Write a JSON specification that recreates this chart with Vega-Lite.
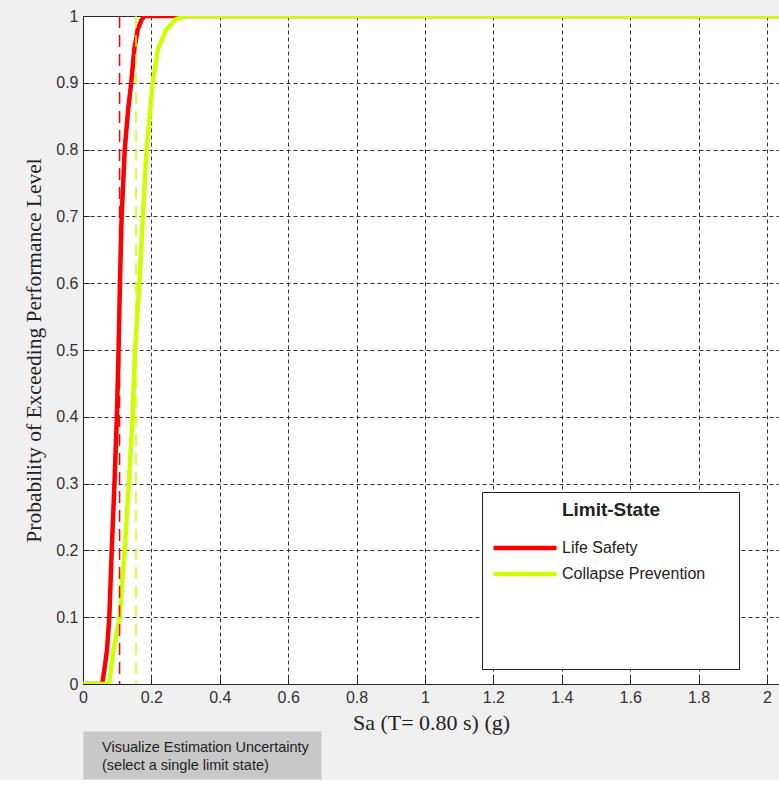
{
  "$schema": "https://vega.github.io/schema/vega-lite/v6.json",
  "background": "#f0f0f0",
  "padding": {"left": 23, "top": 7, "right": 0, "bottom": 0},
  "spacing": 47,
  "bounds": "flush",
  "config": {"view": {"stroke": null}},
  "datasets": {
    "curves": [
      {"state": "Life Safety", "sa": 0, "p": 0},
      {"state": "Life Safety", "sa": 0.056, "p": 0},
      {"state": "Life Safety", "sa": 0.062, "p": 0.02},
      {"state": "Life Safety", "sa": 0.07, "p": 0.05},
      {"state": "Life Safety", "sa": 0.077, "p": 0.1},
      {"state": "Life Safety", "sa": 0.084, "p": 0.2},
      {"state": "Life Safety", "sa": 0.092, "p": 0.3},
      {"state": "Life Safety", "sa": 0.099, "p": 0.4},
      {"state": "Life Safety", "sa": 0.104, "p": 0.5},
      {"state": "Life Safety", "sa": 0.108, "p": 0.6},
      {"state": "Life Safety", "sa": 0.113, "p": 0.7},
      {"state": "Life Safety", "sa": 0.122, "p": 0.8},
      {"state": "Life Safety", "sa": 0.132, "p": 0.86},
      {"state": "Life Safety", "sa": 0.141, "p": 0.9},
      {"state": "Life Safety", "sa": 0.15, "p": 0.95},
      {"state": "Life Safety", "sa": 0.16, "p": 0.98},
      {"state": "Life Safety", "sa": 0.17, "p": 0.993},
      {"state": "Life Safety", "sa": 0.18, "p": 1},
      {"state": "Life Safety", "sa": 2.046, "p": 1},
      {"state": "Collapse Prevention", "sa": 0, "p": 0},
      {"state": "Collapse Prevention", "sa": 0.076, "p": 0},
      {"state": "Collapse Prevention", "sa": 0.082, "p": 0.02},
      {"state": "Collapse Prevention", "sa": 0.089, "p": 0.05},
      {"state": "Collapse Prevention", "sa": 0.107, "p": 0.1},
      {"state": "Collapse Prevention", "sa": 0.122, "p": 0.2},
      {"state": "Collapse Prevention", "sa": 0.134, "p": 0.3},
      {"state": "Collapse Prevention", "sa": 0.145, "p": 0.4},
      {"state": "Collapse Prevention", "sa": 0.152, "p": 0.5},
      {"state": "Collapse Prevention", "sa": 0.165, "p": 0.6},
      {"state": "Collapse Prevention", "sa": 0.175, "p": 0.7},
      {"state": "Collapse Prevention", "sa": 0.186, "p": 0.8},
      {"state": "Collapse Prevention", "sa": 0.204, "p": 0.9},
      {"state": "Collapse Prevention", "sa": 0.219, "p": 0.95},
      {"state": "Collapse Prevention", "sa": 0.244, "p": 0.98},
      {"state": "Collapse Prevention", "sa": 0.271, "p": 0.995},
      {"state": "Collapse Prevention", "sa": 0.3, "p": 1},
      {"state": "Collapse Prevention", "sa": 2.046, "p": 1}
    ],
    "medians": [
      {"state": "Life Safety", "median": 0.107},
      {"state": "Collapse Prevention", "median": 0.155}
    ]
  },
  "vconcat": [
    {
      "width": 700,
      "height": 668,
      "view": {"fill": "white", "stroke": "#222", "strokeWidth": 1},
      "layer": [
        {
          "data": {"name": "curves"},
          "mark": {"type": "line", "strokeWidth": 4.5, "clip": true},
          "encoding": {
            "x": {
              "field": "sa", "type": "quantitative",
              "scale": {"domain": [0, 2.0468], "nice": false, "zero": false},
              "axis": {
                "values": [0, 0.2, 0.4, 0.6, 0.8, 1, 1.2, 1.4, 1.6, 1.8, 2],
                "format": "~g",
                "title": "Sa (T= 0.80 s) (g)",
                "titleFont": "Liberation Serif", "titleFontSize": 22, "titleFontWeight": "normal",
                "titleColor": "#222", "titlePadding": 7, "titleX": 348,
                "labelFont": "Liberation Sans", "labelFontSize": 16, "labelColor": "#333",
                "labelPadding": 11, "labelFlush": false, "labelOverlap": false,
                "tickSize": -6, "tickColor": "#222", "domainColor": "#222",
                "grid": true, "gridDash": [4, 3], "gridColor": "#333", "gridOpacity": 1
              }
            },
            "y": {
              "field": "p", "type": "quantitative",
              "scale": {"domain": [0, 1], "nice": false},
              "axis": {
                "values": [0, 0.1, 0.2, 0.3, 0.4, 0.5, 0.6, 0.7, 0.8, 0.9, 1],
                "format": "~g",
                "title": "Probability of Exceeding Performance Level",
                "titleFont": "Liberation Serif", "titleFontSize": 21.5, "titleFontWeight": "normal",
                "titleColor": "#222", "titlePadding": 10,
                "labelFont": "Liberation Sans", "labelFontSize": 16, "labelColor": "#333",
                "labelPadding": 11, "labelFlush": false, "labelOverlap": false,
                "tickSize": -6, "tickColor": "#222", "domainColor": "#222",
                "grid": true, "gridDash": [4, 3], "gridColor": "#333", "gridOpacity": 1
              }
            },
            "color": {
              "field": "state", "type": "nominal",
              "scale": {
                "domain": ["Life Safety", "Collapse Prevention", "\u2800", "\u2800\u2800", "\u2800\u2800\u2800\u2800\u2800\u2800\u2800\u2800\u2800\u2800\u2800\u2800\u2800\u2800"],
                "range": ["#ff0000", "#ccff00", "transparent", "transparent", "transparent"]
              },
              "legend": {
                "orient": "none", "legendX": 399, "legendY": 476,
                "title": "Limit-State",
                "titleFont": "Liberation Sans", "titleFontSize": 19, "titleFontWeight": "bold",
                "titleColor": "#222", "titleAnchor": "middle", "titlePadding": 20,
                "labelFont": "Liberation Sans", "labelFontSize": 16, "labelColor": "#222",
                "labelLimit": 400, "labelOffset": 3,
                "symbolType": "stroke", "symbolSize": 3969, "symbolStrokeWidth": 4.5,
                "clipHeight": 16, "rowPadding": 10, "padding": 9,
                "strokeColor": "#222", "fillColor": "white"
              }
            }
          }
        },
        {
          "data": {"name": "medians"},
          "mark": {"type": "rule", "strokeDash": [12, 7], "strokeWidth": 1.5},
          "encoding": {
            "x": {"field": "median", "type": "quantitative"},
            "stroke": {
              "field": "state", "type": "nominal",
              "scale": {"domain": ["Life Safety", "Collapse Prevention"], "range": ["#ff0000", "#ccff00"]},
              "legend": null
            }
          }
        }
      ]
    },
    {
      "width": 238,
      "height": 48,
      "view": {"fill": "#c8c8c8", "stroke": "#dadada", "strokeWidth": 1},
      "data": {"values": [{"caption": "Visualize Estimation Uncertainty\n(select a single limit state)"}]},
      "mark": {"type": "text", "align": "left", "dx": -100, "dy": -7, "lineBreak": "\n", "lineHeight": 18, "font": "Liberation Sans", "fontSize": 14.5, "color": "#222"},
      "encoding": {"text": {"field": "caption", "type": "nominal"}}
    }
  ]
}
